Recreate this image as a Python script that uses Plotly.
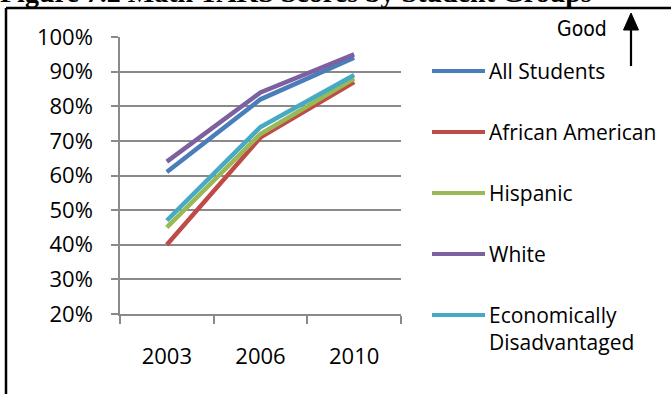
import plotly.graph_objects as go

# ---- data ----
years = ["2003", "2006", "2010"]
series_names = ["All Students", "African American", "Hispanic", "White",
                "Economically<br>Disadvantaged"]
all_students = [61, 82, 94]
african_american = [40, 71, 87]
hispanic = [45, 72, 88]
white = [64, 84, 95]
econ_disadv = [47, 74, 89]
y_tick_vals = [20, 30, 40, 50, 60, 70, 80, 90, 100]
y_tick_text = ["20%", "30%", "40%", "50%", "60%", "70%", "80%", "90%", "100%"]
title_text = "Figure 7.2 Math TAKS Scores by Student Groups"
good_text = "Good"

series_values = [all_students, african_american, hispanic, white, econ_disadv]
colors = ["#4A7EBB", "#BE4B48", "#98B954", "#7D60A0", "#46AAC5"]

# ---- layout geometry (pixels) ----
W, H = 671, 394
L, R, T, B = 120, 401, 37, 314


def px(x):
    return (x - L) / (R - L)


def py(y):
    return (B - y) / (B - T)


fig = go.Figure()
for name, vals, col in zip(series_names, series_values, colors):
    fig.add_trace(go.Scatter(x=years, y=vals, mode="lines", name=name,
                             line=dict(color=col, width=4.5),
                             showlegend=False, hoverinfo="skip"))

grid = "#8a8a8a"
font_main = "Open Sans, Noto Sans, sans-serif"

shapes = []
annotations = []

# custom legend
legend_y = [71, 132, 193, 254, 315]
for name, col, ly in zip(series_names, colors, legend_y):
    shapes.append(dict(type="line", xref="paper", yref="paper",
                       x0=px(432), x1=px(485), y0=py(ly), y1=py(ly),
                       line=dict(color=col, width=4)))
    annotations.append(dict(text=name, xref="paper", yref="paper",
                            x=px(487), y=py(ly - 16), xanchor="left",
                            yanchor="top", align="left", showarrow=False,
                            font=dict(family=font_main, size=21, color="#000")))

# frame (border)
shapes.append(dict(type="line", xref="paper", yref="paper",
                   x0=px(6), x1=px(680), y0=py(8), y1=py(8),
                   line=dict(color="#000", width=2.5)))
shapes.append(dict(type="line", xref="paper", yref="paper",
                   x0=px(6), x1=px(6), y0=py(8), y1=py(400),
                   line=dict(color="#000", width=2.5)))

# "Good" arrow
shapes.append(dict(type="line", xref="paper", yref="paper",
                   x0=px(631), x1=px(631), y0=py(66), y1=py(26),
                   line=dict(color="#000", width=2.2)))
shapes.append(dict(type="path", xref="paper", yref="paper",
                   path="M {a},{b} L {c},{d} L {e},{f} Z".format(
                       a=px(631), b=py(13), c=px(623.5), d=py(30),
                       e=px(638.5), f=py(30)),
                   fillcolor="#000", line=dict(color="#000", width=1)))
annotations.append(dict(text=good_text, xref="paper", yref="paper",
                        x=px(555), y=py(29), xanchor="left", yanchor="middle",
                        showarrow=False,
                        font=dict(family="DejaVu Sans Condensed, Liberation Sans Narrow, sans-serif",
                                  size=21, color="#000")))

# title (cut off at top)
annotations.append(dict(text="<b>" + title_text + "</b>", xref="paper", yref="paper",
                        x=px(-2), y=py(-7), xanchor="left", yanchor="middle",
                        showarrow=False,
                        font=dict(family="Liberation Serif, Times New Roman, serif",
                                  size=28, color="#000")))

fig.update_layout(
    width=W, height=H,
    margin=dict(l=L, r=W - R, t=T, b=H - B, pad=0),
    paper_bgcolor="white", plot_bgcolor="white",
    showlegend=False,
    shapes=shapes, annotations=annotations,
    xaxis=dict(type="category", range=[-0.5, 2.5], tickson="boundaries",
               ticks="outside", ticklen=8, tickcolor=grid, tickwidth=1.5,
               showline=True, linecolor=grid, linewidth=1.5,
               showgrid=False, zeroline=False,
               tickfont=dict(family=font_main, size=22, color="#000"),
               ticklabelstandoff=22),
    yaxis=dict(range=[20, 100], tickvals=y_tick_vals, ticktext=y_tick_text,
               ticks="outside", ticklen=7, tickcolor=grid, tickwidth=1.5,
               showline=True, linecolor=grid, linewidth=1.5,
               showgrid=True, gridcolor=grid, gridwidth=1.5, zeroline=False,
               tickfont=dict(family=font_main, size=22, color="#000"),
               ticklabelstandoff=14),
)

fig.write_html("out.html")
